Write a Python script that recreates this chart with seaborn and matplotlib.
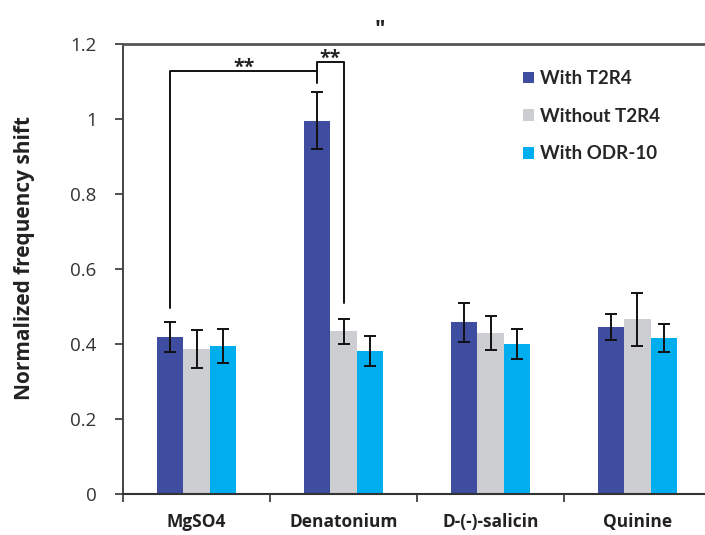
import numpy as np
import pandas as pd
import seaborn as sns
import matplotlib.pyplot as plt
from matplotlib.ticker import FixedLocator, NullFormatter

# values
compounds = ["MgSO4", "Denatonium", "D-(-)-salicin", "Quinine"]
groups = ["With T2R4", "Without T2R4", "With ODR-10"]
with_t2r4 = [0.418, 0.995, 0.458, 0.444]
with_t2r4_err = [0.039, 0.075, 0.052, 0.035]
without_t2r4 = [0.386, 0.433, 0.428, 0.465]
without_t2r4_err = [0.050, 0.033, 0.045, 0.070]
with_odr10 = [0.394, 0.381, 0.399, 0.415]
with_odr10_err = [0.046, 0.039, 0.040, 0.038]
colors = ["#3E4D9F", "#CDCED1", "#00AEEF"]
y_ticks = [0, 0.2, 0.4, 0.6, 0.8, 1, 1.2]
y_tick_labels = ["0", "0.2", "0.4", "0.6", "0.8", "1", "1.2"]

values = [with_t2r4, without_t2r4, with_odr10]
errors = [with_t2r4_err, without_t2r4_err, with_odr10_err]

df = pd.DataFrame({
    "compound": compounds * 3,
    "group": [g for g in groups for _ in compounds],
    "value": with_t2r4 + without_t2r4 + with_odr10,
})

sns.set_style("white")
plt.rcParams['font.family'] = ['Open Sans', 'DejaVu Sans']

fig = plt.figure(figsize=(7.05, 5.35), dpi=100)
ax = fig.add_axes([0.1745, 0.0766, 0.834, 0.842])

sns.barplot(data=df, x="compound", y="value", hue="group", order=compounds,
            hue_order=groups, palette=colors, saturation=1, width=0.54,
            errorbar=None, linewidth=0, ax=ax)

bars = list(ax.containers)


def center(b):
    return b.get_x() + b.get_width() / 2


# error bars at the bar centres
for i, cont in enumerate(bars):
    xs = [center(b) for b in cont]
    ax.errorbar(xs, values[i], yerr=errors[i], fmt="none", ecolor="#111111",
                elinewidth=1.4, capsize=4, capthick=1.4, zorder=5)

# significance brackets
x_mg = center(bars[0][0])
x_den = center(bars[0][1])
x_den_wo = center(bars[1][1])
ax.plot([x_mg, x_mg, x_den, x_den], [0.495, 1.126, 1.126, 1.094],
        color="#111111", lw=1.4, clip_on=False)
ax.plot([x_den, x_den, x_den_wo, x_den_wo], [1.126, 1.15, 1.15, 0.51],
        color="#111111", lw=1.4, clip_on=False)
ax.text((x_mg + x_den) / 2, 1.122, "**", ha="center", va="baseline",
        fontsize=14, fontweight="bold", color="#222222")
ax.text((x_den + x_den_wo) / 2, 1.146, "**", ha="center", va="baseline",
        fontsize=14, fontweight="bold", color="#222222")

ax.set_xlim(-0.5, 3.5)
ax.set_ylim(0, 1.2)
ax.set_yticks(y_ticks)
ax.set_yticklabels(y_tick_labels)
ax.tick_params(axis="y", direction="out", length=6, width=1.2, color="#333333",
               pad=13, labelsize=13.5, labelcolor="#333333", left=True)
ax.xaxis.set_minor_locator(FixedLocator([-0.5, 0.5, 1.5, 2.5, 3.5]))
ax.xaxis.set_minor_formatter(NullFormatter())
ax.tick_params(axis="x", which="major", length=0, pad=14, labelsize=12.5)
ax.tick_params(axis="x", which="minor", direction="out", length=6, width=1.2,
               color="#333333", bottom=True)
for lab in ax.get_xticklabels():
    lab.set_fontweight("bold")
    lab.set_color("#222222")

ax.set_xlabel("")
ax.set_ylabel("Normalized frequency shift", fontsize=15, fontweight="bold",
              color="#222222")
ax.yaxis.set_label_coords(-0.15, 0.524)

ax.spines["right"].set_visible(False)
ax.spines["top"].set_color("#555555")
ax.spines["top"].set_linewidth(2)
ax.spines["left"].set_color("#444444")
ax.spines["left"].set_linewidth(1.4)
ax.spines["bottom"].set_color("#333333")
ax.spines["bottom"].set_linewidth(1.5)

handles, labels = ax.get_legend_handles_labels()
ax.legend(handles, labels, loc="upper left", bbox_to_anchor=(0.742, 0.869),
          bbox_transform=fig.transFigure, frameon=False,
          prop={"family": "Lato", "weight": "bold", "size": 13.5},
          handlelength=0.6, handleheight=0.6, handletextpad=0.3,
          labelspacing=1.1, borderpad=0, borderaxespad=0)

fig.text(0.539, 0.945, '"', ha="center", va="center", fontsize=16,
         fontweight="bold", color="#222222")

fig.savefig("out.png", dpi=100)
